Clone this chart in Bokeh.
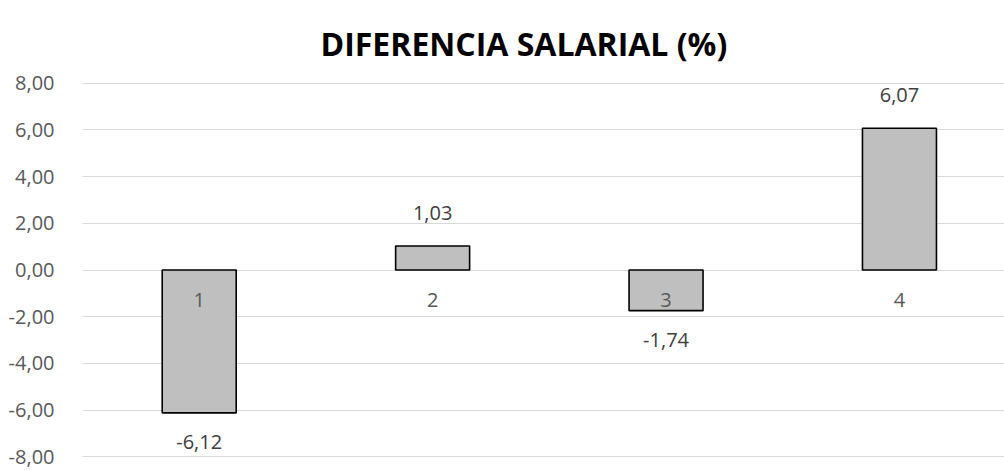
from bokeh.plotting import figure
from bokeh.models import ColumnDataSource, Range1d, FixedTicker, CustomJSTickFormatter
from bokeh.core.properties import value
from bokeh.embed import file_html
from bokeh.resources import INLINE

categories = ["1", "2", "3", "4"]
values = [-6.12, 1.03, -1.74, 6.07]
y_ticks = [-8, -6, -4, -2, 0, 2, 4, 6, 8]
title_text = "DIFERENCIA SALARIAL (%)"

FONT = "Open Sans"

xpos = list(range(1, len(categories) + 1))
labels = [f"{v:.2f}".replace(".", ",") for v in values]
src = ColumnDataSource(dict(x=xpos, cat=categories, top=values, lab=labels,
                            zero=[0] * len(values)))
pos = ColumnDataSource(dict(x=[x for x, v in zip(xpos, values) if v >= 0],
                            y=[v for v in values if v >= 0],
                            lab=[l for l, v in zip(labels, values) if v >= 0]))
neg = ColumnDataSource(dict(x=[x for x, v in zip(xpos, values) if v < 0],
                            y=[v for v in values if v < 0],
                            lab=[l for l, v in zip(labels, values) if v < 0]))

# the plot area continues past the right edge of the picture, as in the reference
p = figure(x_range=Range1d(0.5, 4.45), y_range=Range1d(-8.03, 8.03),
           width=1004, height=470, output_backend="svg", toolbar_location=None,
           x_axis_location=None, min_border_left=82, min_border_right=0,
           min_border_top=82, min_border_bottom=13)

p.title.text = title_text
p.title.align = "left"
p.title.offset = 238
p.title.text_font = FONT
p.title.text_font_size = "32px"
p.title.text_font_style = "bold"
p.title.text_color = "#000000"
p.title.standoff = 36

p.outline_line_color = None
p.xgrid.grid_line_color = None
p.ygrid.grid_line_color = "#D9D9D9"
p.ygrid.grid_line_width = 1.2
p.ygrid.ticker = FixedTicker(ticks=y_ticks)

ax = p.yaxis[0]
ax.ticker = FixedTicker(ticks=y_ticks)
ax.formatter = CustomJSTickFormatter(code="return tick.toFixed(2).replace('.', ',');")
ax.axis_line_color = None
ax.major_tick_line_color = None
ax.minor_tick_line_color = None
ax.major_label_standoff = 22
ax.major_label_text_font = FONT
ax.major_label_text_font_size = "20px"
ax.major_label_text_color = "#595959"

p.vbar(x="x", top="top", bottom="zero", width=0.317, source=src,
       fill_color="#BFBFBF", line_color="#000000", line_width=1.6)

# category labels just below the zero line
p.text(x="x", y="zero", text="cat", source=src, text_align="center",
       text_baseline="middle", y_offset=30, text_font=value(FONT),
       text_font_size="20px", text_color="#595959")

p.text(x="x", y="y", text="lab", source=pos, text_align="center",
       text_baseline="middle", y_offset=-33, text_font=value(FONT),
       text_font_size="20px", text_color="#404040")
p.text(x="x", y="y", text="lab", source=neg, text_align="center",
       text_baseline="middle", y_offset=29, text_font=value(FONT),
       text_font_size="20px", text_color="#404040")

open("out.html", "w").write(file_html(p, INLINE))
